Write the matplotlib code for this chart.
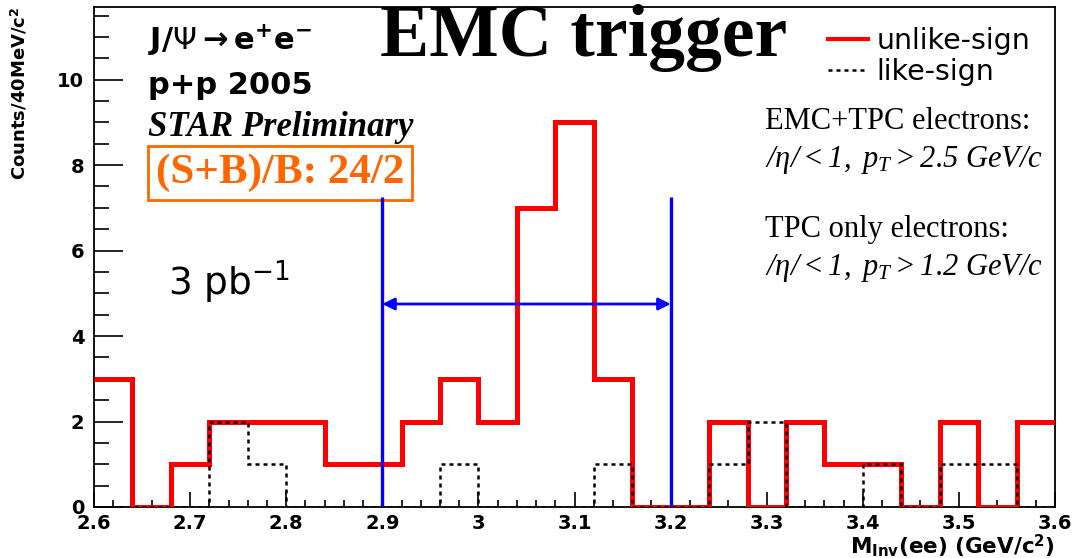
import numpy as np
import matplotlib
matplotlib.use("Agg")
import matplotlib.pyplot as plt
from matplotlib.ticker import MultipleLocator, FuncFormatter
from matplotlib.lines import Line2D

plt.rcParams['mathtext.fontset'] = 'custom'
plt.rcParams['mathtext.rm'] = 'Liberation Serif:italic'
plt.rcParams['mathtext.it'] = 'Liberation Serif:italic'
plt.rcParams['mathtext.bf'] = 'DejaVu Sans:bold'

# invariant mass bins, 40 MeV wide
edges = np.round(np.arange(2.60, 3.6001, 0.04), 2)
unlike_sign = [3, 0, 1, 2, 2, 2, 1, 1, 2, 3, 2, 7, 9, 3, 0, 0, 2, 0, 2, 1, 1, 0, 2, 0, 2]
like_sign = [0, 0, 0, 2, 1, 0, 0, 0, 0, 1, 0, 0, 0, 1, 0, 0, 1, 2, 0, 0, 1, 0, 1, 1, 0]

# mass window used for the S/B count
window = [2.9, 3.2]
window_top = 7.25
arrow_y = 4.75

fig = plt.figure(figsize=(10.77, 5.58), dpi=100)
ax = fig.add_axes([0.0873, 0.0914, 0.8923, 0.8961])

ax.stairs(unlike_sign, edges, baseline=None, color='#ff0000', lw=3.6, zorder=3)
ax.stairs(like_sign, edges, baseline=None, color='black', lw=1.8,
          linestyle=(0, (1.6, 1.6)), zorder=4)

ax.vlines(window, 0, window_top, color='#0000ff', lw=2.4, zorder=5)
ax.annotate('', xy=(window[1], arrow_y), xytext=(window[0], arrow_y),
            arrowprops=dict(arrowstyle='<|-|>', color='#0000ff', lw=2,
                            mutation_scale=18, shrinkA=0, shrinkB=0), zorder=5)

ax.set_xlim(2.6, 3.6)
ax.set_ylim(0, 11.7)
ax.xaxis.set_major_locator(MultipleLocator(0.1))
ax.xaxis.set_minor_locator(MultipleLocator(0.02))
ax.yaxis.set_major_locator(MultipleLocator(2))
ax.yaxis.set_minor_locator(MultipleLocator(0.5))
ax.xaxis.set_major_formatter(FuncFormatter(lambda v, _: f'{round(v, 2):g}'))
ax.tick_params(axis='y', which='major', direction='in', length=21, width=1.2, pad=7)
ax.tick_params(axis='y', which='minor', direction='in', length=11, width=1.2)
ax.tick_params(axis='x', which='major', direction='in', length=11, width=1.2, pad=5)
ax.tick_params(axis='x', which='minor', direction='in', length=5, width=1.2)
for lab in ax.get_xticklabels() + ax.get_yticklabels():
    lab.set_fontweight('bold')
    lab.set_fontsize(14)
    lab.set_family('DejaVu Sans')
for s in ax.spines.values():
    s.set_linewidth(1.3)

ax.set_ylabel(r'Counts/40MeV/c$^{\mathbf{2}}$', fontsize=13, fontweight='bold', loc='top')
ax.yaxis.set_label_coords(-0.067, 1.0)
ax.set_xlabel(r'M$_{\mathbf{Inv}}$(ee) (GeV/c$^{\mathbf{2}}$)', fontsize=15.5,
              fontweight='bold', loc='right')
ax.xaxis.set_label_coords(1.0, -0.05)

ax.text(0.056, 0.934, r'$\mathbf{J/}\Psi\mathbf{\rightarrow e^{+}e^{-}}$', transform=ax.transAxes,
        fontsize=22, va='center', ha='left', math_fontfamily='dejavusans')
ax.text(0.056, 0.842, 'p+p 2005', transform=ax.transAxes, fontsize=22,
        fontweight='bold', family='DejaVu Sans', va='center', ha='left')
ax.text(0.056, 0.758, 'STAR Preliminary', transform=ax.transAxes, fontsize=25,
        fontweight='bold', style='italic', family='Liberation Serif', va='center', ha='left')
ax.text(0.064, 0.668, '(S+B)/B: 24/2', transform=ax.transAxes, fontsize=31,
        fontweight='bold', family='Liberation Serif', color='#ff6600', va='center', ha='left',
        bbox=dict(boxstyle='square,pad=0.18', fc='white', ec='#ff6600', lw=2))
ax.text(0.298, 0.938, 'EMC trigger', transform=ax.transAxes, fontsize=53,
        fontweight='bold', family='Liberation Serif', va='center', ha='left')
ax.text(0.077, 0.45, r'3 pb$^{-1}$', transform=ax.transAxes, fontsize=27,
        family='DejaVu Sans', math_fontfamily='dejavusans', va='center', ha='left')

ax.text(0.698, 0.77, 'EMC+TPC electrons:', transform=ax.transAxes, fontsize=22,
        family='Liberation Serif', va='center', ha='left')
ax.text(0.698, 0.694, r'$/\eta/{<}1,\ p_{T}{>}2.5\ GeV/c$', transform=ax.transAxes,
        fontsize=22, va='center', ha='left')
ax.text(0.698, 0.554, 'TPC only electrons:', transform=ax.transAxes, fontsize=22,
        family='Liberation Serif', va='center', ha='left')
ax.text(0.698, 0.478, r'$/\eta/{<}1,\ p_{T}{>}1.2\ GeV/c$', transform=ax.transAxes,
        fontsize=22, va='center', ha='left')

handles = [Line2D([], [], color='#ff0000', lw=3),
           Line2D([], [], color='black', lw=1.8, linestyle=(0, (1.6, 1.6)))]
ax.legend(handles, ['unlike-sign', 'like-sign'], loc='upper right',
          bbox_to_anchor=(0.995, 1.0), frameon=False, handlelength=1.4,
          handletextpad=0.3, labelspacing=0.1, borderaxespad=0.3,
          prop={'family': 'DejaVu Sans', 'size': 20.5})

fig.savefig('out.png', dpi=100)
